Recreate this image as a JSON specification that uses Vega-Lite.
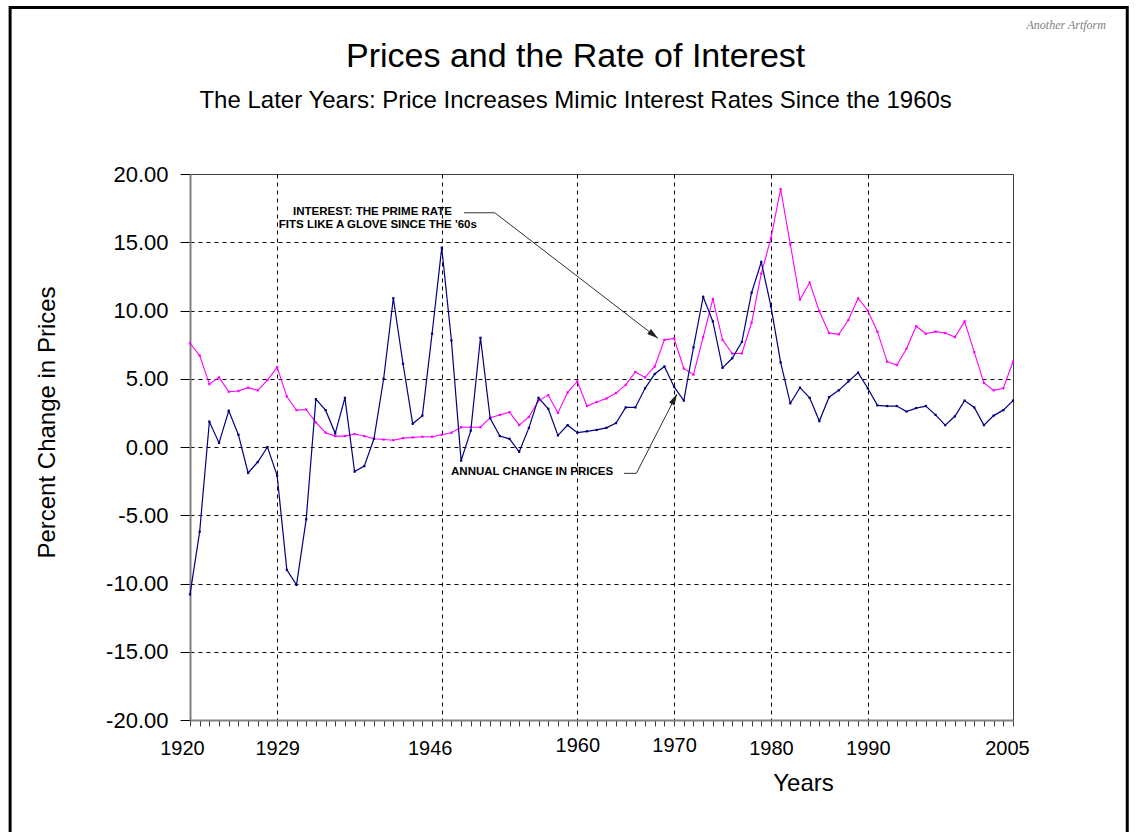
{
  "$schema": "https://vega.github.io/schema/vega-lite/v6.json",
  "autosize": "none",
  "width": 823,
  "height": 546,
  "padding": {"left": 190, "top": 174, "right": 123, "bottom": 112},
  "background": "white",
  "config": {
    "view": {"stroke": "#404040", "strokeWidth": 1},
    "font": "Liberation Sans"
  },
  "data": {
    "values": [
      {"year": 1920, "price": -10.8, "interest": 7.6},
      {"year": 1921, "price": -6.2, "interest": 6.7},
      {"year": 1922, "price": 1.85, "interest": 4.6},
      {"year": 1923, "price": 0.3, "interest": 5.1},
      {"year": 1924, "price": 2.65, "interest": 4.05},
      {"year": 1925, "price": 0.9, "interest": 4.1},
      {"year": 1926, "price": -1.9, "interest": 4.35},
      {"year": 1927, "price": -1.1, "interest": 4.15},
      {"year": 1928, "price": 0.0, "interest": 4.9},
      {"year": 1929, "price": -2.1, "interest": 5.85},
      {"year": 1930, "price": -9.0, "interest": 3.7},
      {"year": 1931, "price": -10.1, "interest": 2.7},
      {"year": 1932, "price": -5.3, "interest": 2.75},
      {"year": 1933, "price": 3.5, "interest": 1.8},
      {"year": 1934, "price": 2.7, "interest": 1.05},
      {"year": 1935, "price": 1.0, "interest": 0.8},
      {"year": 1936, "price": 3.6, "interest": 0.8},
      {"year": 1937, "price": -1.8, "interest": 0.95},
      {"year": 1938, "price": -1.4, "interest": 0.8},
      {"year": 1939, "price": 0.6, "interest": 0.6},
      {"year": 1940, "price": 5.0, "interest": 0.55},
      {"year": 1941, "price": 10.9, "interest": 0.5},
      {"year": 1942, "price": 6.1, "interest": 0.65},
      {"year": 1943, "price": 1.7, "interest": 0.7},
      {"year": 1944, "price": 2.3, "interest": 0.75},
      {"year": 1945, "price": 8.3, "interest": 0.75},
      {"year": 1946, "price": 14.6, "interest": 0.9},
      {"year": 1947, "price": 7.8, "interest": 1.05},
      {"year": 1948, "price": -1.0, "interest": 1.45},
      {"year": 1949, "price": 1.2, "interest": 1.45},
      {"year": 1950, "price": 8.0, "interest": 1.45},
      {"year": 1951, "price": 2.1, "interest": 2.15},
      {"year": 1952, "price": 0.8, "interest": 2.35},
      {"year": 1953, "price": 0.6, "interest": 2.55},
      {"year": 1954, "price": -0.35, "interest": 1.6},
      {"year": 1955, "price": 1.4, "interest": 2.2},
      {"year": 1956, "price": 3.6, "interest": 3.4},
      {"year": 1957, "price": 2.8, "interest": 3.8},
      {"year": 1958, "price": 0.85, "interest": 2.5},
      {"year": 1959, "price": 1.6, "interest": 4.0},
      {"year": 1960, "price": 1.05, "interest": 4.8},
      {"year": 1961, "price": 1.15, "interest": 3.0},
      {"year": 1962, "price": 1.25, "interest": 3.3},
      {"year": 1963, "price": 1.4, "interest": 3.55},
      {"year": 1964, "price": 1.75, "interest": 3.95},
      {"year": 1965, "price": 2.9, "interest": 4.55},
      {"year": 1966, "price": 2.9, "interest": 5.5},
      {"year": 1967, "price": 4.3, "interest": 5.1},
      {"year": 1968, "price": 5.35, "interest": 5.9},
      {"year": 1969, "price": 5.9, "interest": 7.85},
      {"year": 1970, "price": 4.4, "interest": 7.95},
      {"year": 1971, "price": 3.4, "interest": 5.75},
      {"year": 1972, "price": 7.3, "interest": 5.3},
      {"year": 1973, "price": 11.0, "interest": 8.05},
      {"year": 1974, "price": 9.2, "interest": 10.85},
      {"year": 1975, "price": 5.8, "interest": 7.85},
      {"year": 1976, "price": 6.5, "interest": 6.85},
      {"year": 1977, "price": 7.7, "interest": 6.85},
      {"year": 1978, "price": 11.3, "interest": 9.1},
      {"year": 1979, "price": 13.55, "interest": 12.7},
      {"year": 1980, "price": 10.3, "interest": 15.3},
      {"year": 1981, "price": 6.2, "interest": 18.9},
      {"year": 1982, "price": 3.2, "interest": 14.85},
      {"year": 1983, "price": 4.35, "interest": 10.8},
      {"year": 1984, "price": 3.6, "interest": 12.05},
      {"year": 1985, "price": 1.9, "interest": 9.95},
      {"year": 1986, "price": 3.65, "interest": 8.35},
      {"year": 1987, "price": 4.15, "interest": 8.25},
      {"year": 1988, "price": 4.8, "interest": 9.3},
      {"year": 1989, "price": 5.45, "interest": 10.9},
      {"year": 1990, "price": 4.3, "interest": 10.0},
      {"year": 1991, "price": 3.05, "interest": 8.45},
      {"year": 1992, "price": 3.0, "interest": 6.25},
      {"year": 1993, "price": 3.0, "interest": 6.0},
      {"year": 1994, "price": 2.6, "interest": 7.2},
      {"year": 1995, "price": 2.85, "interest": 8.85},
      {"year": 1996, "price": 3.0, "interest": 8.3},
      {"year": 1997, "price": 2.35, "interest": 8.45},
      {"year": 1998, "price": 1.6, "interest": 8.35},
      {"year": 1999, "price": 2.25, "interest": 8.05},
      {"year": 2000, "price": 3.4, "interest": 9.2},
      {"year": 2001, "price": 2.9, "interest": 6.95},
      {"year": 2002, "price": 1.6, "interest": 4.7},
      {"year": 2003, "price": 2.3, "interest": 4.15},
      {"year": 2004, "price": 2.7, "interest": 4.3},
      {"year": 2005, "price": 3.4, "interest": 6.25}
    ]
  },
  "layer": [
    {
      "mark": {"type": "line", "color": "#FF00FF", "strokeWidth": 1.1, "point": {"filled": true, "size": 5, "shape": "square", "color": "#FF00FF"}},
      "encoding": {
        "x": {
          "field": "year", "type": "quantitative", "title": "Years",
          "scale": {"domain": [1920, 2005], "nice": false, "zero": false},
          "axis": {
            "values": [1920,1921,1922,1923,1924,1925,1926,1927,1928,1929,1930,1931,1932,1933,1934,1935,1936,1937,1938,1939,1940,1941,1942,1943,1944,1945,1946,1947,1948,1949,1950,1951,1952,1953,1954,1955,1956,1957,1958,1959,1960,1961,1962,1963,1964,1965,1966,1967,1968,1969,1970,1971,1972,1973,1974,1975,1976,1977,1978,1979,1980,1981,1982,1983,1984,1985,1986,1987,1988,1989,1990,1991,1992,1993,1994,1995,1996,1997,1998,1999,2000,2001,2002,2003,2004,2005],
            "tickCount": 200,
            "format": "d",
            "labelExpr": "indexof([1920,1929,1946,1960,1970,1980,1990,2005], datum.value) >= 0 ? datum.label : ''",
            "labelOverlap": false,
            "labelFlush": false,
            "labelFontSize": 20,
            "labelColor": "black",
            "labelPadding": {"condition": {"test": "datum.value == 1960 || datum.value == 1970", "value": 9}, "value": 12},
            "labelOffset": {"condition": [{"test": "datum.value == 1946", "value": -12}, {"test": "datum.value == 1920", "value": -8}, {"test": "datum.value == 2005", "value": -6}], "value": 0},
            "tickSize": 6,
            "tickColor": "#404040",
            "domainColor": "#808080",
            "domainWidth": 2,
            "grid": true,
            "gridColor": "black",
            "gridDash": [4, 4],
            "gridOpacity": {"condition": {"test": "indexof([1929,1946,1960,1970,1980,1990], datum.value) >= 0", "value": 1}, "value": 0},
            "titleFontSize": 24,
            "titleFontWeight": "normal",
            "titleColor": "black",
            "titleX": 613,
            "titleY": 63,
            "titleAlign": "center",
            "titleBaseline": "middle"
          }
        },
        "y": {
          "field": "interest", "type": "quantitative", "title": "Percent Change in Prices",
          "scale": {"domain": [-20, 20], "nice": false, "zero": false},
          "axis": {
            "values": [-20, -15, -10, -5, 0, 5, 10, 15, 20],
            "format": ".2f",
            "labelExpr": "replace(datum.label, '−', '-')",
            "labelFontSize": 22,
            "labelColor": "black",
            "labelPadding": 12,
            "tickSize": 10,
            "tickColor": "black",
            "domainColor": "#808080",
            "domainWidth": 2,
            "grid": true,
            "gridColor": "black",
            "gridDash": [4, 4],
            "gridOpacity": {"condition": {"test": "abs(datum.value) == 20", "value": 0}, "value": 1},
            "titleFontSize": 24,
            "titleFontWeight": "normal",
            "titleColor": "black",
            "titleX": -143,
            "titleY": 248,
            "titleAlign": "center",
            "titleBaseline": "middle"
          }
        }
      }
    },
    {
      "mark": {"type": "line", "color": "#000080", "strokeWidth": 1.2, "point": {"filled": true, "size": 5, "shape": "square", "color": "#000080"}},
      "encoding": {
        "x": {"field": "year", "type": "quantitative", "title": "Years"},
        "y": {"field": "price", "type": "quantitative", "title": "Percent Change in Prices"}
      }
    },
    {
      "data": {"values": [{}]},
      "mark": {"type": "rule", "color": "#303030", "strokeWidth": 1},
      "encoding": {"x": {"datum": 1948.31}, "y": {"datum": 17.16}, "x2": {"datum": 1951.48}, "y2": {"datum": 17.16}}
    },
    {
      "data": {"values": [{}]},
      "mark": {"type": "rule", "color": "#303030", "strokeWidth": 1},
      "encoding": {"x": {"datum": 1951.48}, "y": {"datum": 17.16}, "x2": {"datum": 1968.33}, "y2": {"datum": 7.96}}
    },
    {
      "data": {"values": [{}]},
      "mark": {"type": "point", "shape": "M0,0L0.28,1L-0.28,1Z", "size": 500, "filled": true, "color": "#202020", "angle": 127.6, "opacity": 1},
      "encoding": {"x": {"datum": 1968.33}, "y": {"datum": 7.96}}
    },
    {
      "data": {"values": [{}]},
      "mark": {"type": "rule", "color": "#303030", "strokeWidth": 1},
      "encoding": {"x": {"datum": 1964.82}, "y": {"datum": -1.93}, "x2": {"datum": 1966.1}, "y2": {"datum": -1.93}}
    },
    {
      "data": {"values": [{}]},
      "mark": {"type": "rule", "color": "#303030", "strokeWidth": 1},
      "encoding": {"x": {"datum": 1966.1}, "y": {"datum": -1.93}, "x2": {"datum": 1970.29}, "y2": {"datum": 3.88}}
    },
    {
      "data": {"values": [{}]},
      "mark": {"type": "point", "shape": "M0,0L0.28,1L-0.28,1Z", "size": 500, "filled": true, "color": "#202020", "angle": 27.1, "opacity": 1},
      "encoding": {"x": {"datum": 1970.29}, "y": {"datum": 3.88}}
    },
    {
      "data": {"values": [{}]},
      "mark": {"type": "text", "text": "INTEREST: THE PRIME RATE", "font": "Liberation Sans", "fontWeight": "bold", "fontSize": 11.5, "color": "black", "align": "center", "baseline": "middle"},
      "encoding": {"x": {"datum": 1938.85}, "y": {"datum": 17.2}}
    },
    {
      "data": {"values": [{}]},
      "mark": {"type": "text", "text": "FITS LIKE A GLOVE SINCE THE '60s", "font": "Liberation Sans", "fontWeight": "bold", "fontSize": 11.5, "color": "black", "align": "center", "baseline": "middle"},
      "encoding": {"x": {"datum": 1939.4}, "y": {"datum": 16.26}}
    },
    {
      "data": {"values": [{}]},
      "mark": {"type": "text", "text": "ANNUAL CHANGE IN PRICES", "font": "Liberation Sans", "fontWeight": "bold", "fontSize": 11.5, "color": "black", "align": "center", "baseline": "middle"},
      "encoding": {"x": {"datum": 1955.33}, "y": {"datum": -1.83}}
    },
    {
      "data": {"values": [{}]},
      "mark": {"type": "text", "text": "Prices and the Rate of Interest", "font": "Liberation Sans", "fontSize": 34, "color": "black", "align": "center", "baseline": "alphabetic"},
      "encoding": {"x": {"datum": 1959.83}, "y": {"datum": 27.84}}
    },
    {
      "data": {"values": [{}]},
      "mark": {"type": "text", "text": "The Later Years: Price Increases Mimic Interest Rates Since the 1960s", "font": "Liberation Sans", "fontSize": 24, "color": "black", "align": "center", "baseline": "alphabetic"},
      "encoding": {"x": {"datum": 1959.83}, "y": {"datum": 24.84}}
    },
    {
      "data": {"values": [{}]},
      "mark": {"type": "text", "text": "Another Artform", "font": "Liberation Serif", "fontStyle": "italic", "fontSize": 12, "color": "#808080", "align": "right", "baseline": "middle"},
      "encoding": {"x": {"datum": 2014.6}, "y": {"datum": 30.9}}
    },
    {
      "data": {"values": [{}]},
      "mark": {"type": "rect", "fillOpacity": 0, "stroke": "black", "strokeWidth": 3},
      "encoding": {"x": {"datum": 1901.42}, "x2": {"datum": 2016.8}, "y": {"datum": 32.2}, "y2": {"datum": -32}}
    }
  ]
}
